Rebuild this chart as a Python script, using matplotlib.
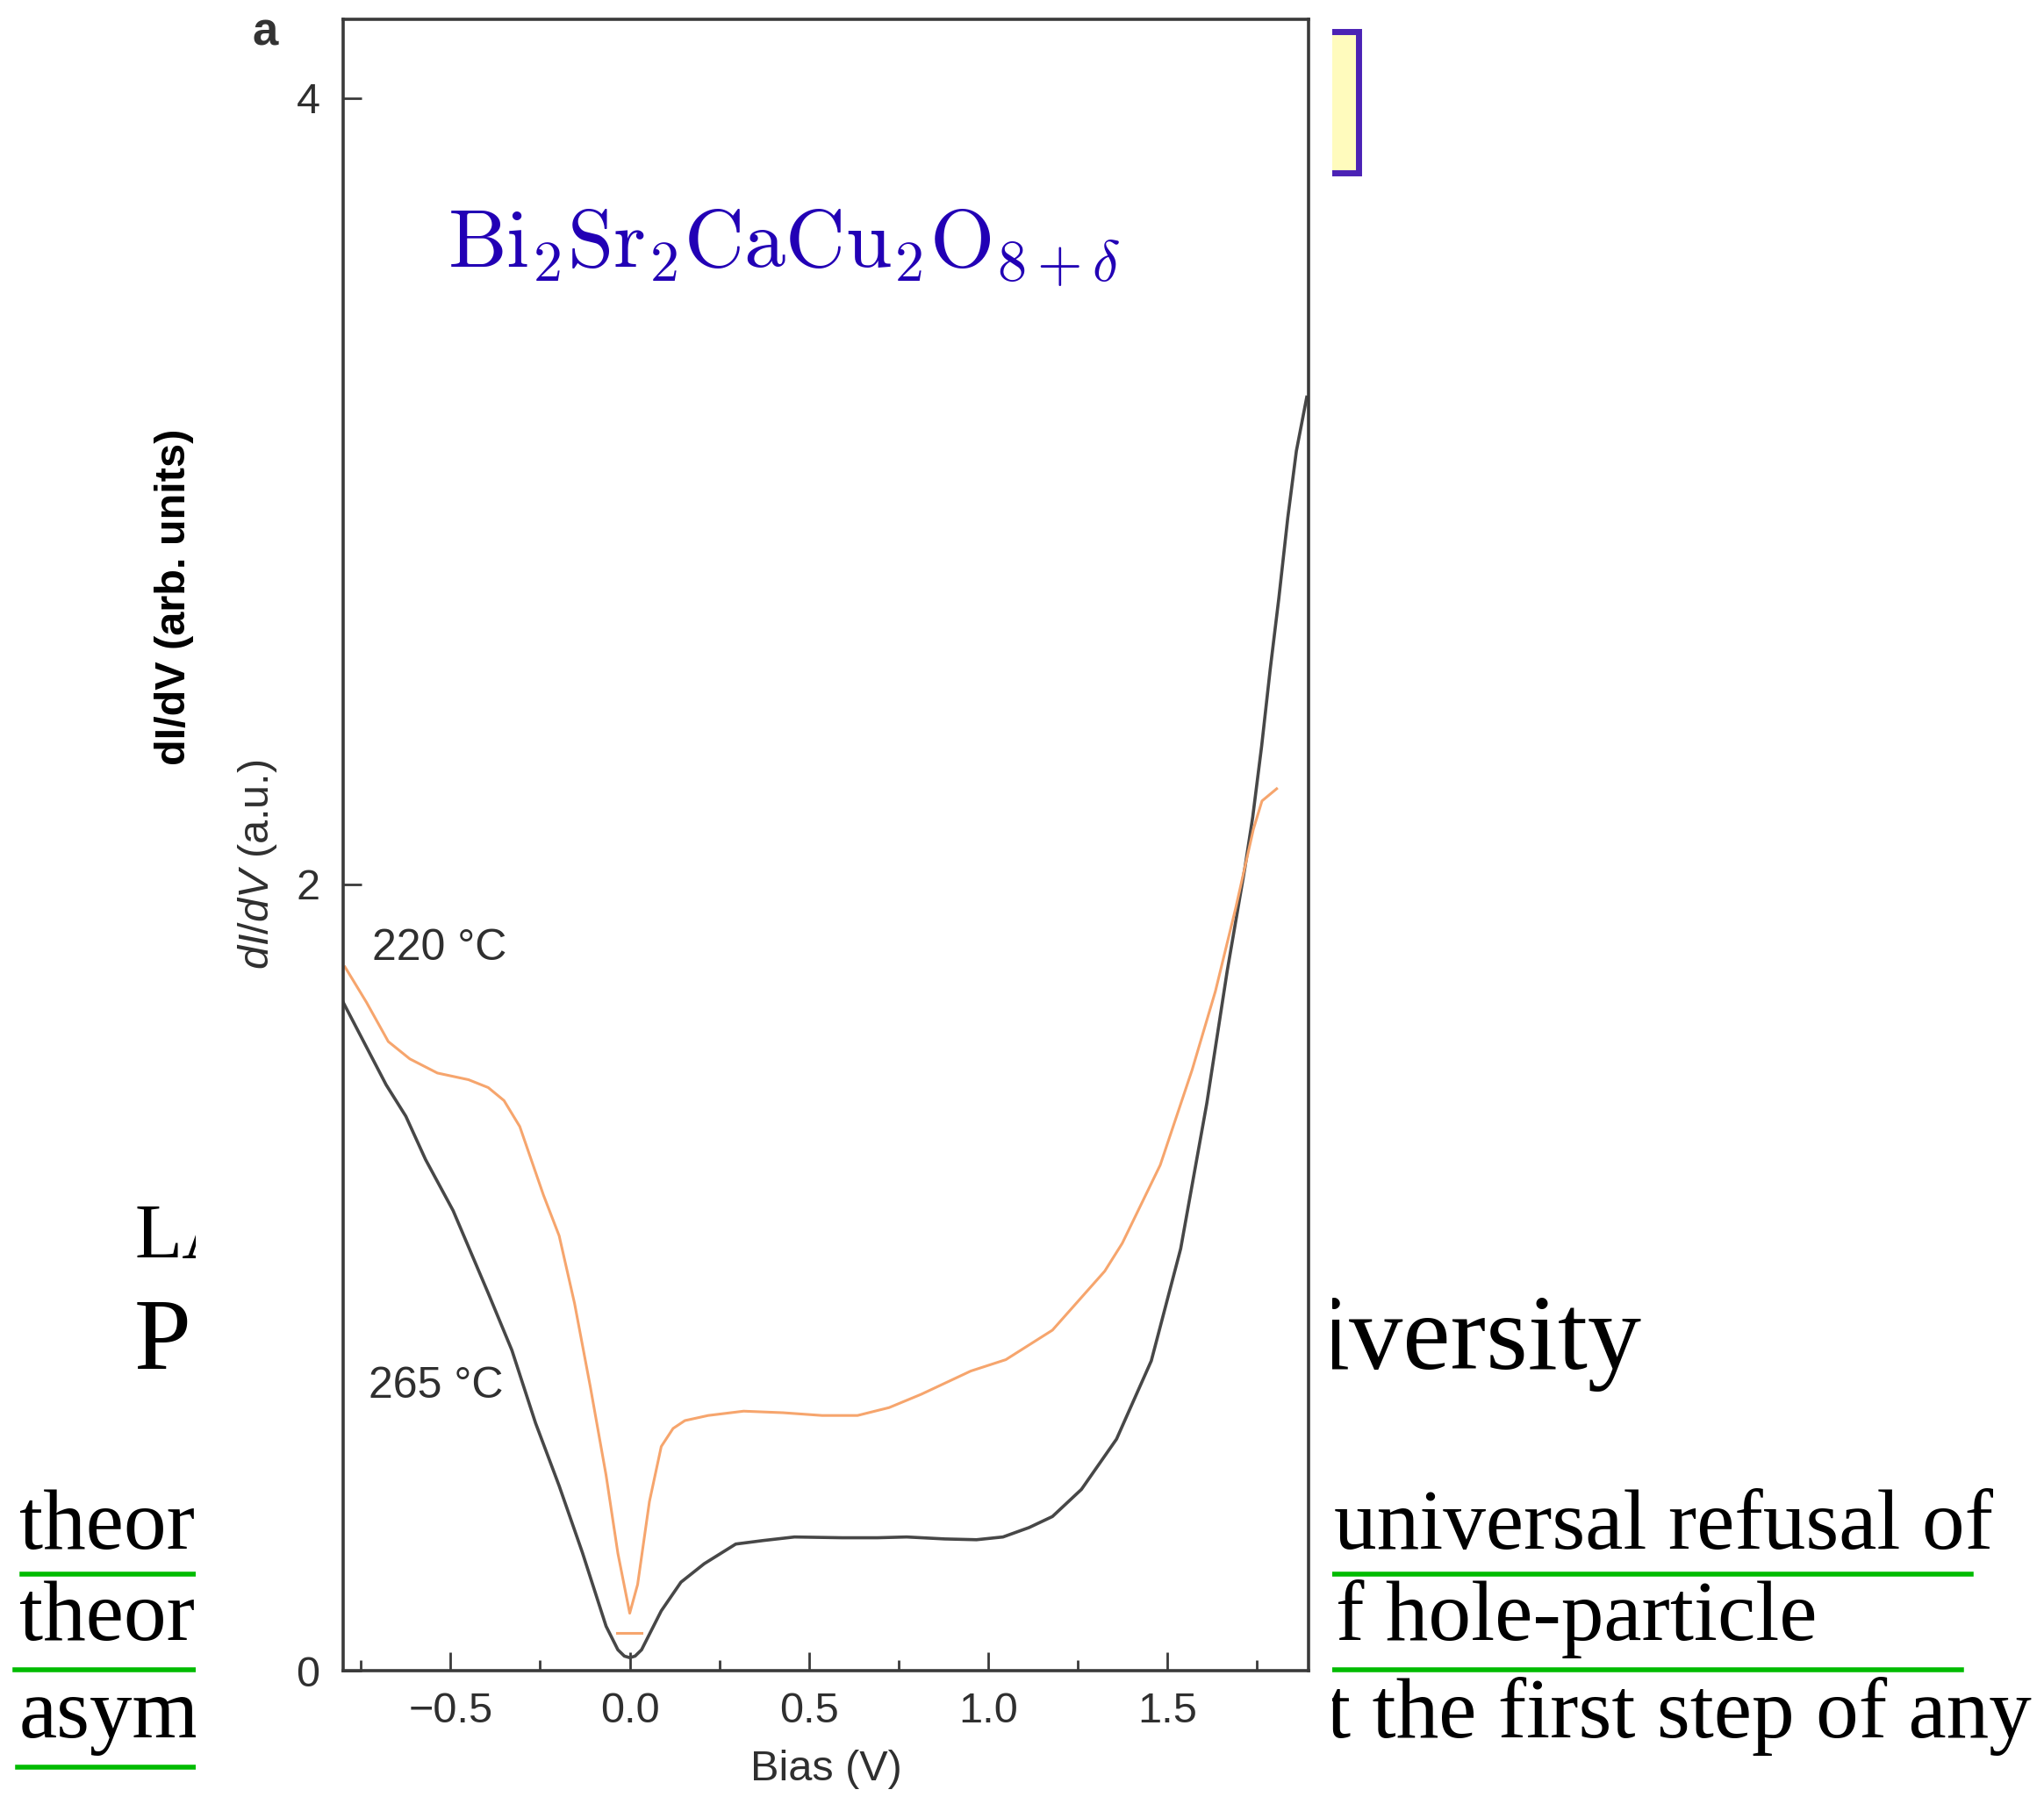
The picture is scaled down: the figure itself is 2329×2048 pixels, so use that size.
import numpy as np
import matplotlib.pyplot as plt
from matplotlib.patches import Rectangle
from matplotlib.lines import Line2D

plt.rcParams['font.family'] = ['Liberation Sans', 'DejaVu Sans']
plt.rcParams['mathtext.fontset'] = 'custom'
plt.rcParams['mathtext.rm'] = 'Liberation Sans'
plt.rcParams['mathtext.it'] = 'Liberation Sans:italic'

# dI/dV spectra
bias_265 = [-0.80, -0.68, -0.625, -0.57, -0.493, -0.395, -0.329, -0.263, -0.197, -0.132,
            -0.066, -0.033, -0.015, 0.0, 0.015, 0.033, 0.088, 0.143, 0.208, 0.296, 0.373,
            0.46, 0.592, 0.692, 0.773, 0.879, 0.968, 1.042, 1.115, 1.18, 1.261, 1.359,
            1.456, 1.538, 1.611, 1.668, 1.717, 1.739, 1.764, 1.788, 1.812, 1.837, 1.861, 1.89]
didv_265 = [1.70, 1.49, 1.41, 1.30, 1.17, 0.96, 0.815, 0.63, 0.47, 0.30,
            0.113, 0.053, 0.037, 0.033, 0.037, 0.053, 0.152, 0.225, 0.272, 0.322, 0.331,
            0.340, 0.338, 0.338, 0.340, 0.335, 0.333, 0.340, 0.364, 0.392, 0.461, 0.589,
            0.788, 1.073, 1.443, 1.78, 2.04, 2.17, 2.351, 2.547, 2.727, 2.932, 3.102, 3.239]

bias_220 = [-0.795, -0.735, -0.674, -0.614, -0.537, -0.45, -0.395, -0.351, -0.307, -0.241,
            -0.197, -0.154, -0.11, -0.066, -0.033, 0.0, 0.022, 0.055, 0.088, 0.121, 0.154,
            0.219, 0.318, 0.428, 0.537, 0.636, 0.724, 0.814, 0.952, 1.05, 1.18, 1.326,
            1.375, 1.481, 1.57, 1.635, 1.692, 1.741, 1.765, 1.806]
didv_220 = [1.79, 1.70, 1.60, 1.556, 1.52, 1.503, 1.483, 1.45, 1.384, 1.21,
            1.106, 0.934, 0.722, 0.497, 0.298, 0.146, 0.219, 0.43, 0.57, 0.616, 0.636,
            0.649, 0.66, 0.656, 0.649, 0.649, 0.669, 0.703, 0.762, 0.791, 0.866, 1.016,
            1.087, 1.286, 1.528, 1.728, 1.941, 2.140, 2.212, 2.243]

zero_220 = 0.097
labels = ["220 °C", "265 °C"]
x_ticks = [-0.5, 0.0, 0.5, 1.0, 1.5]
x_minor = [-0.75, -0.25, 0.25, 0.75, 1.25, 1.75]
y_ticks = [0, 2, 4]

W, H = 2329, 2048
fig = plt.figure(figsize=(W / 100, H / 100), dpi=100)

def fx(px):
    return px / W

def fy(py):
    return 1 - py / H

# page text behind the figure
serif = ['Liberation Serif', 'DejaVu Serif']
body = 70
fig.text(fx(153), fy(1433), "LA", fontsize=64, family=serif, zorder=1)
fig.text(fx(153), fy(1560), "P", fontsize=84, family=serif, zorder=1)
fig.text(fx(1503), fy(1560), "iversity", fontsize=88, family=serif, zorder=1)
fig.text(fx(22), fy(1765), "theor", fontsize=body, family=serif, zorder=1)
fig.text(fx(22), fy(1869), "theor", fontsize=body, family=serif, zorder=1)
fig.text(fx(22), fy(1980), "asym", fontsize=body, family=serif, zorder=1)
fig.text(fx(1520), fy(1765), "universal refusal of", fontsize=body, family=serif, zorder=1)
fig.text(fx(1522), fy(1869), "f hole-particle", fontsize=body, family=serif, zorder=1)
fig.text(fx(1512), fy(1980), "t the first step of any", fontsize=body, family=serif, zorder=1)

green = '#00bb00'
for x0, x1, y in [(25, 223, 1794), (17, 223, 1903), (20, 223, 2014),
                  (1518, 2246, 1794), (1518, 2235, 1903)]:
    fig.add_artist(Line2D([fx(x0), fx(x1)], [fy(y), fy(y)], color=green, lw=4,
                          transform=fig.transFigure, zorder=1))

# yellow box peeking out on the right
fig.add_artist(Rectangle((fx(1470), fy(197)), fx(1548) - fx(1470), fy(36) - fy(197),
                         transform=fig.transFigure, facecolor='#fffbbd',
                         edgecolor='#4b22b5', lw=5, zorder=1))

# white area of the pasted figure
fig.add_artist(Rectangle((fx(223), 0), fx(1518) - fx(223), 1, transform=fig.transFigure,
                         facecolor='white', edgecolor='none', zorder=2))

ax = fig.add_axes([fx(391), 1 - 1904 / H, fx(1491) - fx(391), (1904 - 22) / H])
ax.set_zorder(3)

gray = '#474747'
orange = '#f6a56d'
ax.plot(bias_265, didv_265, color=gray, lw=2.6)
ax.plot(bias_220, didv_220, color=orange, lw=2.2)
ax.plot([-0.035, 0.033], [zero_220, zero_220], color=orange, lw=2.2)

ax.text(-0.718, 1.837, labels[0], fontsize=36, color='#2f2f2f', va='center', ha='left')
ax.text(-0.729, 0.724, labels[1], fontsize=36, color='#2f2f2f', va='center', ha='left')

ax.set_xlim(-0.8, 1.895)
ax.set_ylim(0, 4.2)
ax.set_xticks(x_ticks)
ax.set_xticks(x_minor, minor=True)
ax.set_yticks(y_ticks)
ax.set_xticklabels(["\u22120.5", "0.0", "0.5", "1.0", "1.5"])

for s in ['top', 'right', 'bottom', 'left']:
    ax.spines[s].set_color('#3a3a3a')
    ax.spines[s].set_linewidth(2.6)

ax.tick_params(axis='both', which='major', direction='in', length=15, width=2,
               color='#3a3a3a', labelsize=35, labelcolor='#2f2f2f')
ax.tick_params(axis='x', which='major', pad=17)
ax.tick_params(axis='y', which='major', pad=19)
ax.tick_params(axis='x', which='minor', direction='in', length=9, width=2, color='#3a3a3a')

ax.text(0.5, -0.048, "Bias (V)", transform=ax.transAxes, fontsize=35, color='#2f2f2f',
        ha='center', va='top')
ax.text(-0.089, 0.488, r"$dI/dV$ (a.u.)", transform=ax.transAxes, fontsize=35,
        color='#2f2f2f', rotation=90, ha='center', va='center')
ax.text(-0.175, 0.650, "dI/dV (arb. units)", transform=ax.transAxes, fontsize=35,
        fontweight='bold', color='black', rotation=90, ha='center', va='center')
ax.text(-0.081, 0.992, "a", transform=ax.transAxes, fontsize=38, fontweight='bold',
        color='#333333', ha='center', va='center')
ax.text(0.456, 0.850, r"$\mathrm{Bi_2Sr_2CaCu_2O_{8+\delta}}$", transform=ax.transAxes,
        fontsize=68, color='#2200b5', ha='center', va='baseline', math_fontfamily='cm')

fig.savefig("out.png", dpi=100)
